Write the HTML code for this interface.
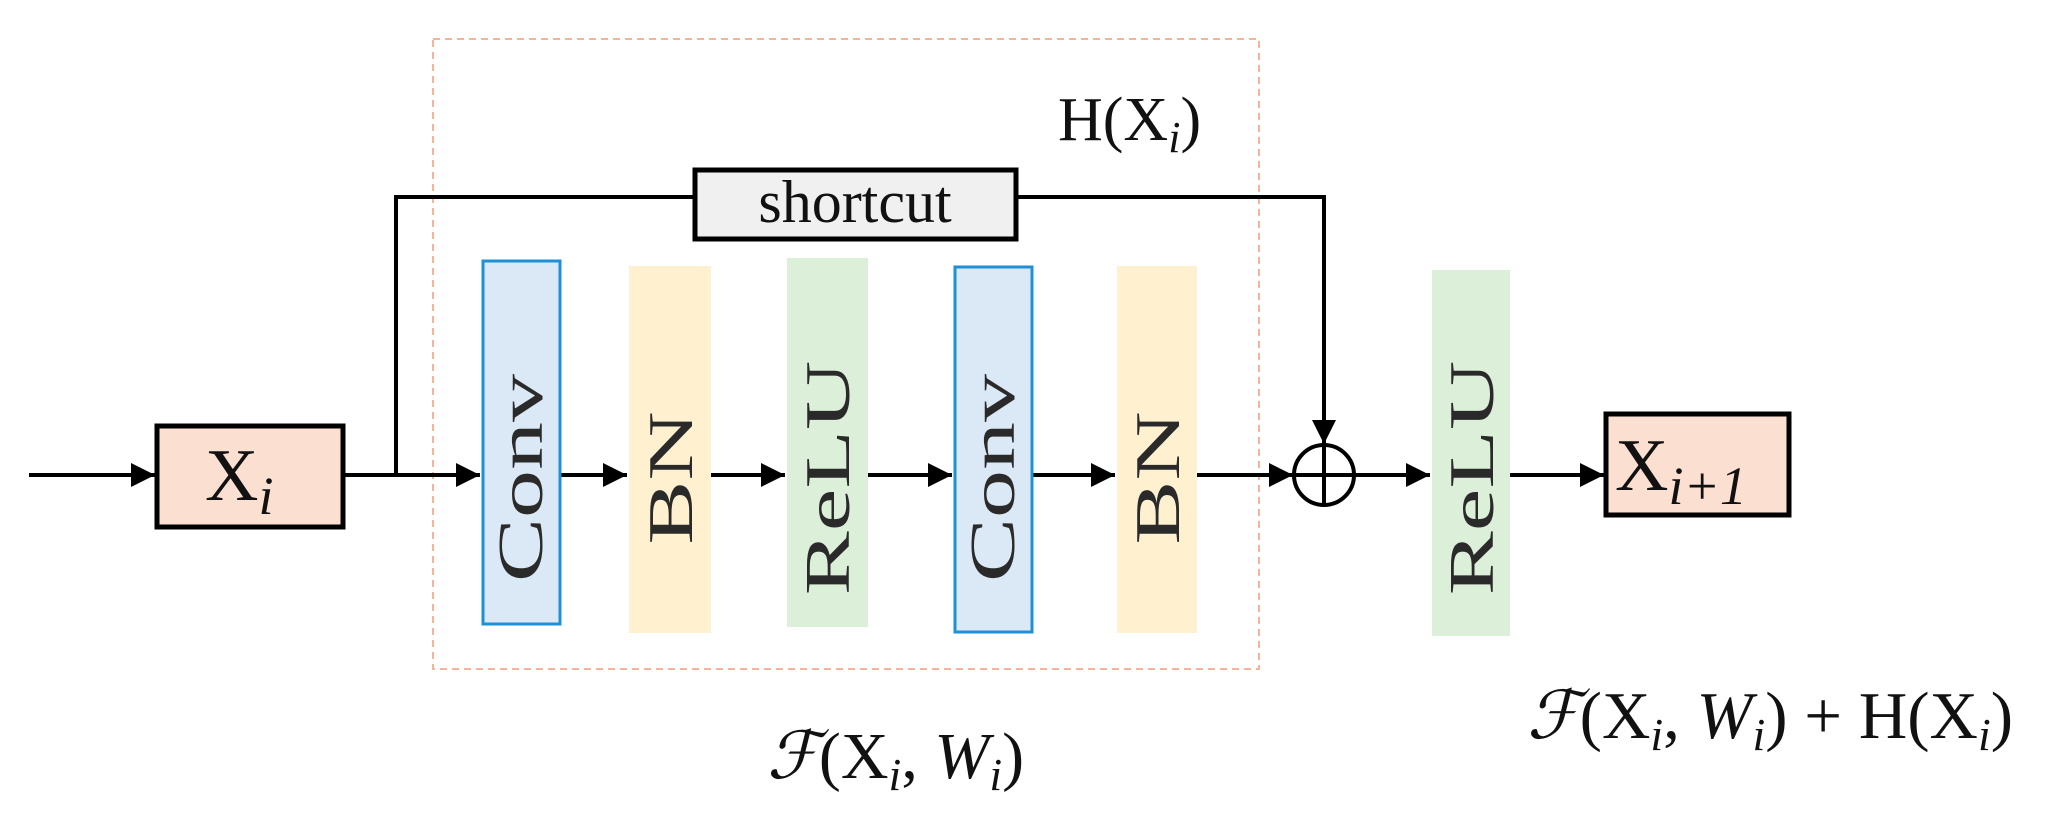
<!DOCTYPE html>
<html><head><meta charset="utf-8"><style>html,body{margin:0;padding:0;background:#fff}svg{display:block}</style></head>
<body>
<svg width="2056" height="836" viewBox="0 0 2056 836" xmlns="http://www.w3.org/2000/svg" font-family="Liberation Serif, serif">
<defs><marker id="a" viewBox="0 0 10 10" refX="10" refY="5" markerWidth="6" markerHeight="6" orient="auto" markerUnits="strokeWidth"><path d="M0,0 L10,5 L0,10 z" fill="#000"/></marker></defs>
<rect x="433" y="39" width="826" height="630" fill="none" stroke="#f5b49a" stroke-width="2" stroke-dasharray="7,5"/>
<g stroke="#000" stroke-width="4" fill="none">
<line x1="29" y1="475" x2="155" y2="475" marker-end="url(#a)"/>
<line x1="343" y1="475" x2="480" y2="475" marker-end="url(#a)"/>
<polyline points="396,475 396,197 695,197"/>
<polyline points="1016,197 1324,197 1324,444" marker-end="url(#a)"/>
<line x1="561" y1="475" x2="627" y2="475" marker-end="url(#a)"/>
<line x1="711" y1="475" x2="785" y2="475" marker-end="url(#a)"/>
<line x1="868" y1="475" x2="952" y2="475" marker-end="url(#a)"/>
<line x1="1033" y1="475" x2="1115" y2="475" marker-end="url(#a)"/>
<line x1="1197" y1="475" x2="1293" y2="475" marker-end="url(#a)"/>
<line x1="1355" y1="475" x2="1430" y2="475" marker-end="url(#a)"/>
<line x1="1510" y1="475" x2="1604" y2="475" marker-end="url(#a)"/>
<circle cx="1324" cy="475" r="30"/>
<line x1="1294" y1="475" x2="1354" y2="475"/>
<line x1="1324" y1="445" x2="1324" y2="505"/>
</g>
<rect x="157" y="426" width="186" height="101" fill="#fbdfd0" stroke="#000" stroke-width="5"/>
<rect x="1606" y="414" width="183" height="101" fill="#fbdfd0" stroke="#000" stroke-width="5"/>
<rect x="695" y="170" width="321" height="69" fill="#f0f0f0" stroke="#000" stroke-width="5"/>
<rect x="483" y="261" width="77" height="363" fill="#dbe9f6" stroke="#1f8fd6" stroke-width="3"/>
<rect x="629" y="266" width="82" height="367" fill="#fff1cf"/>
<rect x="787" y="258" width="81" height="369" fill="#dcefd8"/>
<rect x="955" y="267" width="77" height="365" fill="#dbe9f6" stroke="#1f8fd6" stroke-width="3"/>
<rect x="1117" y="266" width="80" height="367" fill="#fff1cf"/>
<rect x="1432" y="270" width="78" height="366" fill="#dcefd8"/>
<g font-size="64" fill="#2a2a2a" text-anchor="middle">
<text transform="translate(542,478) rotate(-90) scale(1.5,1)">Conv</text>
<text transform="translate(692,478) rotate(-90) scale(1.5,1)">BN</text>
<text transform="translate(849,478) rotate(-90) scale(1.5,1)">ReLU</text>
<text transform="translate(1014,478) rotate(-90) scale(1.5,1)">Conv</text>
<text transform="translate(1179,478) rotate(-90) scale(1.5,1)">BN</text>
<text transform="translate(1493,478) rotate(-90) scale(1.5,1)">ReLU</text>
</g>
<text x="855" y="222" font-size="60" text-anchor="middle" fill="#111">shortcut</text>
<text x="205" y="500" font-size="74" fill="#111">X<tspan font-style="italic" font-size="54" dy="14">i</tspan></text>
<text x="1615" y="490" font-size="74" fill="#111">X<tspan font-style="italic" font-size="54" dy="14">i+1</tspan></text>
<text x="1058" y="140" font-size="62" fill="#111">H(X<tspan font-style="italic" font-size="44" dy="12">i</tspan><tspan dy="-12">)</tspan></text>
<text x="767" y="778" font-size="66" fill="#111"><tspan font-style="italic">ℱ</tspan>(X<tspan font-style="italic" font-size="46" dy="12">i</tspan><tspan dy="-12">, </tspan><tspan font-style="italic">W</tspan><tspan font-style="italic" font-size="46" dy="12">i</tspan><tspan dy="-12">)</tspan></text>
<text x="1527" y="738" font-size="67" fill="#111"><tspan font-style="italic">ℱ</tspan>(X<tspan font-style="italic" font-size="46" dy="12">i</tspan><tspan dy="-12">, </tspan><tspan font-style="italic">W</tspan><tspan font-style="italic" font-size="46" dy="12">i</tspan><tspan dy="-12">) + H(X</tspan><tspan font-style="italic" font-size="46" dy="12">i</tspan><tspan dy="-12">)</tspan></text>
</svg>
</body></html>
